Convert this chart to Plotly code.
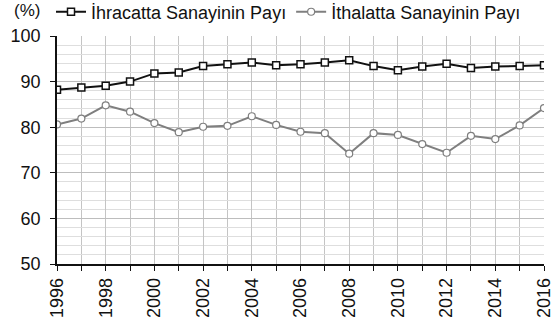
import plotly.graph_objects as go

years = list(range(1996, 2017))
ihracat = [88.2, 88.7, 89.1, 90.0, 91.8, 92.0, 93.4, 93.8, 94.2, 93.6, 93.8,
           94.2, 94.7, 93.4, 92.5, 93.3, 93.9, 93.0, 93.3, 93.4, 93.6]
ithalat = [80.6, 81.9, 84.8, 83.4, 80.9, 78.9, 80.1, 80.3, 82.4, 80.5, 79.0,
           78.7, 74.2, 78.7, 78.3, 76.3, 74.4, 78.1, 77.4, 80.4, 84.2]
x_ticks = list(range(1996, 2017, 2))
y_ticks = [50, 60, 70, 80, 90, 100]

FONT = "Liberation Sans, Arial, sans-serif"

fig = go.Figure()
fig.add_trace(go.Scatter(
    x=years, y=ihracat, mode="lines+markers", name="İhracatta Sanayinin Payı",
    line=dict(color="#111111", width=2),
    marker=dict(symbol="square", size=7, color="white",
                line=dict(color="#111111", width=1.5)),
))
fig.add_trace(go.Scatter(
    x=years, y=ithalat, mode="lines+markers", name="İthalatta Sanayinin Payı",
    line=dict(color="#7f7f7f", width=2),
    marker=dict(symbol="circle", size=7, color="white",
                line=dict(color="#7f7f7f", width=1.2)),
))

fig.update_layout(
    width=556, height=319,
    margin=dict(l=57, r=12, t=36, b=55, autoexpand=False),
    paper_bgcolor="white", plot_bgcolor="white",
    font=dict(family=FONT, color="#111111"),
    showlegend=True,
    legend=dict(orientation="h", x=-0.0123, xanchor="left",
                y=1.105, yanchor="middle",
                font=dict(size=18, family=FONT), itemwidth=30,
                bgcolor="rgba(0,0,0,0)", tracegroupgap=0),
    annotations=[dict(text="(%)", xref="paper", yref="paper", x=-0.0924, y=1.11,
                      xanchor="left", yanchor="middle", showarrow=False,
                      font=dict(size=17, family=FONT))],
)
fig.update_xaxes(
    range=[1996, 2016], tickvals=x_ticks, ticktext=[str(v) for v in x_ticks],
    tickangle=-90, tickfont=dict(size=18, family=FONT),
    showgrid=True, gridcolor="#c4c4c4", gridwidth=1,
    minor=dict(dtick=1, tick0=1996, showgrid=True, gridcolor="#c4c4c4",
               ticks="outside", ticklen=5, tickcolor="#111111"),
    showline=True, linecolor="#111111", linewidth=1.5,
    ticks="outside", ticklen=5, tickcolor="#111111", zeroline=False,
)
fig.update_yaxes(
    range=[50, 100], tickvals=y_ticks, tickfont=dict(size=18, family=FONT),
    showgrid=True, gridcolor="#bdbdbd", gridwidth=1,
    minor=dict(dtick=2, showgrid=True, gridcolor="#dedede"),
    showline=True, linecolor="#111111", linewidth=1.5,
    ticks="outside", ticklen=5, tickcolor="#111111", zeroline=False,
    ticklabelstandoff=6,
)

fig.write_html("out.html", config={"displayModeBar": False},
               post_script="document.body.style.margin='0';")
